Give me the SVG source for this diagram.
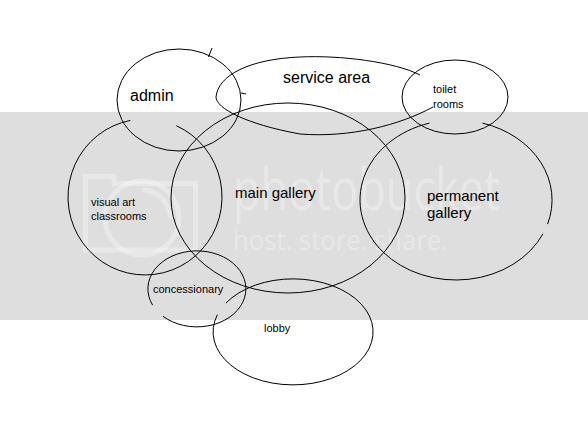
<svg xmlns="http://www.w3.org/2000/svg" width="588" height="431" viewBox="0 0 588 431">
<style>
.sh{fill:none;stroke:#000;stroke-width:1}
.lbl{font-family:"Liberation Sans",Arial,sans-serif;fill:#000}
.big{font-size:16px}
.mid{font-size:15px}
.sm{font-size:11px}
.wm{fill:#fff;fill-opacity:0.3;font-family:"Open Sans","Noto Sans",sans-serif}
.wmline{fill:none;stroke:#fff;stroke-opacity:0.3;stroke-width:5}
</style>
<rect width="588" height="431" fill="#fff"/>
<g id="watermark">
<rect x="0" y="112" width="588" height="208" fill="#dedede"/>
<path class="wmline" d="M85.5,250 V176.5 H114 V183.5 H195.5 V250 Z"/>
<circle class="wmline" cx="142" cy="218" r="37"/>
<path class="wmline" d="M142,190 A28,28 0 0 1 170,218"/>
<text class="wm" x="233" y="210" font-size="58" textLength="267" lengthAdjust="spacingAndGlyphs">photobucket</text>
<text class="wm" x="233" y="250" font-size="27" textLength="215" lengthAdjust="spacingAndGlyphs">host. store. share.</text>
</g>
<g id="connectors"></g>
<g id="admin">
<ellipse class="sh" cx="179" cy="100" rx="62" ry="51"/>
<line class="sh" x1="208.5" y1="57" x2="212" y2="48"/>
<line class="sh" x1="241" y1="93" x2="246" y2="94"/>
<text class="lbl big" x="130" y="101">admin</text>
</g>
<g id="service-area">
<path class="sh" d="M420,75 C395,62 340,55 300,57 C250,59 218,75 216,97 C216,108 245,124 300,134 C350,138 400,125 433,107"/>
<text class="lbl big" x="283" y="83">service area</text>
</g>
<g id="toilet-rooms">
<ellipse class="sh" cx="455" cy="97" rx="53" ry="37"/>
<text class="lbl sm" x="433" y="93">toilet</text>
<text class="lbl sm" x="433" y="108">rooms</text>
</g>
<g id="visual-art-classrooms">
<path class="sh" d="M176.3,125.7 A77,78 0 1 1 130.3,120.4"/>
<text class="lbl sm" x="91" y="206">visual art</text>
<text class="lbl sm" x="91" y="220">classrooms</text>
</g>
<g id="main-gallery">
<ellipse class="sh" cx="288" cy="198" rx="117" ry="95"/>
<text class="lbl mid" x="235" y="198">main gallery</text>
</g>
<g id="permanent-gallery">
<path class="sh" d="M482.5,123.1 A96,80 0 0 1 547.6,224.1"/>
<path class="sh" d="M543,233.8 A96,80 0 1 1 429.5,123.1"/>
<text class="lbl mid" x="427" y="201">permanent</text>
<text class="lbl mid" x="427" y="218">gallery</text>
</g>
<g id="concessionary">
<path class="sh" d="M152.6,305.1 A49,38 0 1 1 163,316.3"/>
<text class="lbl sm" x="153" y="293">concessionary</text>
</g>
<g id="lobby">
<path class="sh" d="M225.9,303.1 A80,53 0 1 1 217.4,314.7"/>
<text class="lbl sm" x="264" y="332">lobby</text>
</g>
</svg>
